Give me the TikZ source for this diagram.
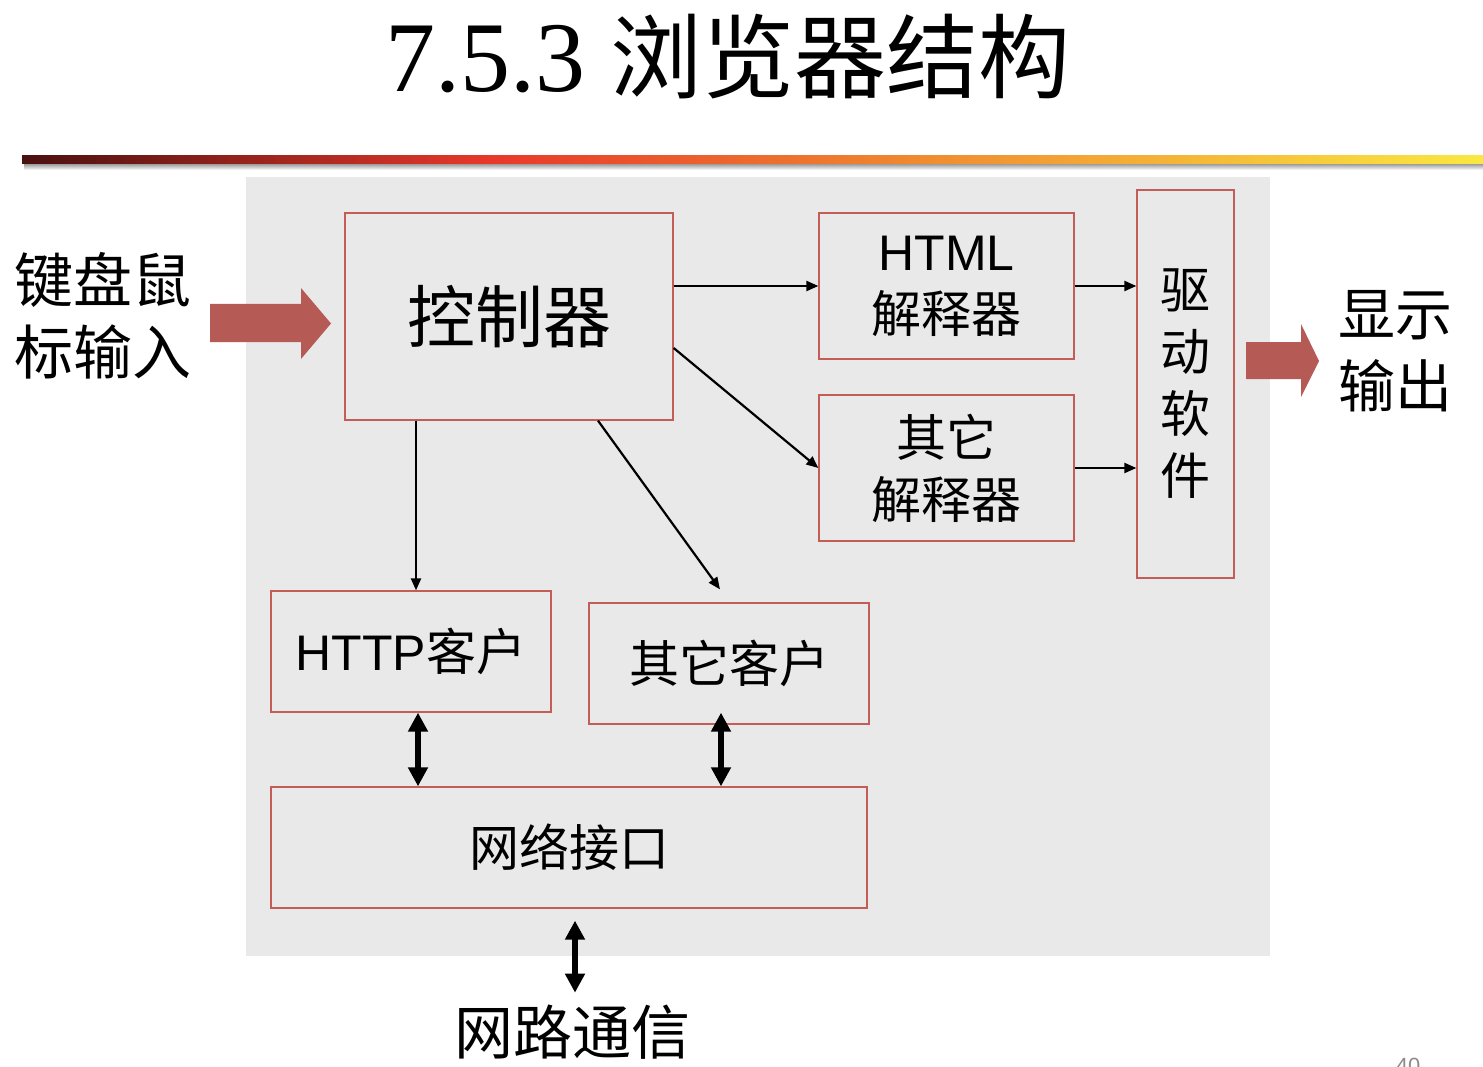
\documentclass[tikz,border=0pt]{standalone}
\usepackage{fontspec}
\setmainfont{Liberation Serif}
\newfontfamily\ser{Liberation Serif}
\newfontfamily\cjk{Noto Sans CJK SC}
\newfontfamily\lat{Liberation Sans}
\usetikzlibrary{arrows.meta}
\definecolor{bg}{RGB}{233,233,233}
\definecolor{boxred}{RGB}{196,92,88}
\definecolor{blockred}{RGB}{181,90,85}
\definecolor{barA}{RGB}{74,16,16}
\definecolor{barB}{RGB}{232,56,42}
\definecolor{barC}{RGB}{240,140,48}
\definecolor{barD}{RGB}{250,232,64}
\pgfdeclarehorizontalshading{headbar}{100bp}{color(0bp)=(barA); color(25bp)=(barA); color(41bp)=(barB); color(56bp)=(barC); color(75bp)=(barD); color(100bp)=(barD)}
\begin{document}
\begin{tikzpicture}[x=1pt,y=-1pt,
  box/.style={draw=boxred, line width=1.3pt, inner sep=0pt, align=center},
  txt/.style={inner sep=0pt, align=center},
  thin/.style={line width=2.2pt, -{Triangle[length=12pt,width=10pt]}},
  dbl/.style={line width=6pt, {Triangle[length=19pt,width=19pt]}-{Triangle[length=19pt,width=19pt]}},
  block/.style={fill=blockred, draw=none}]
\useasboundingbox (0,0) rectangle (1483,1067);
\fill[white] (0,0) rectangle (1483,1067);

% title
\node[txt, anchor=base] (title) at (728,92) {{\ser\fontsize{100}{100}\selectfont 7.5.3 }{\cjk\fontsize{92}{92}\selectfont 浏览器结构}};

% header bar with its shadow
\shade[top color=black!45, bottom color=white] (24,163) rectangle (1483,170);
\shade[shading=headbar] (22,156) rectangle (1483,163.5);

% panel
\fill[bg] (246,177) rectangle (1270,956);

% boxes
\node[box, minimum width=328pt, minimum height=207pt, font={\cjk\fontsize{68}{68}\selectfont}] (ctrl) at (509,316.5) {控制器};
\node[box, minimum width=255pt, minimum height=146pt, font={\cjk\fontsize{50}{62}\selectfont}] (html) at (946.5,286) {{\lat HTML}\\解释器};
\node[box, minimum width=255pt, minimum height=146pt, font={\cjk\fontsize{50}{62}\selectfont}] (oth) at (946.5,468) {其它\\解释器};
\node[box, minimum width=97pt, minimum height=388pt, font={\cjk\fontsize{50}{62}\selectfont}] (drv) at (1185.5,384) {驱\\动\\软\\件};
\node[box, minimum width=280pt, minimum height=121pt, font={\cjk\fontsize{50}{50}\selectfont}] (http) at (411,651.5) {{\lat HTTP}客户};
\node[box, minimum width=280pt, minimum height=121pt, font={\cjk\fontsize{50}{50}\selectfont}] (othc) at (729,663.5) {其它客户};
\node[box, minimum width=596pt, minimum height=121pt, font={\cjk\fontsize{50}{50}\selectfont}] (net) at (569,847.5) {网络接口};

% outside labels
\node[txt, font={\cjk\fontsize{59}{72}\selectfont}] (kbd) at (103,316) {键盘鼠\\标输入};
\node[txt, font={\cjk\fontsize{57}{72}\selectfont}] (disp) at (1395,351) {显示\\输出};
\node[txt, font={\cjk\fontsize{59}{59}\selectfont}] (comm) at (572,1032) {网路通信};
\node[txt, anchor=base, text=black!45, font={\lat\fontsize{22}{22}\selectfont}] (page) at (1408,1073) {40};

% block arrows
\fill[block] (210,304) -- (301,304) -- (301,288) -- (331,323.5) -- (301,359) -- (301,342) -- (210,342) -- cycle;
\fill[block] (1246,342) -- (1301,342) -- (1301,324) -- (1319,361) -- (1301,397) -- (1301,379) -- (1246,379) -- cycle;

% connectors
\draw[thin] (ctrl.east |- html.west) -- (html.west);
\draw[thin] ([yshift=-31.5pt]ctrl.east) -- (oth.west);
\draw[thin] (html.east) -- (drv.west |- html.east);
\draw[thin] (oth.east) -- (drv.west |- oth.east);
\draw[thin] ([xshift=-93pt]ctrl.south) -- ([xshift=5pt]http.north);
\coordinate (othctip) at ([xshift=-9pt,yshift=13pt]othc.north);
\draw[thin] ([xshift=89pt]ctrl.south) -- (othctip);

% two-way links
\draw[dbl] ([xshift=7pt]http.south) -- ([xshift=7pt]http.south |- net.north);
\coordinate (othcup) at ([xshift=-8pt,yshift=12pt]othc.south);
\draw[dbl] (othcup) -- (othcup |- net.north);
\coordinate (netdown) at ([xshift=6pt,yshift=-12pt]net.south);
\coordinate (commup) at ([yshift=-72pt]netdown);
\draw[dbl] (netdown) -- (commup);
\end{tikzpicture}
\end{document}
